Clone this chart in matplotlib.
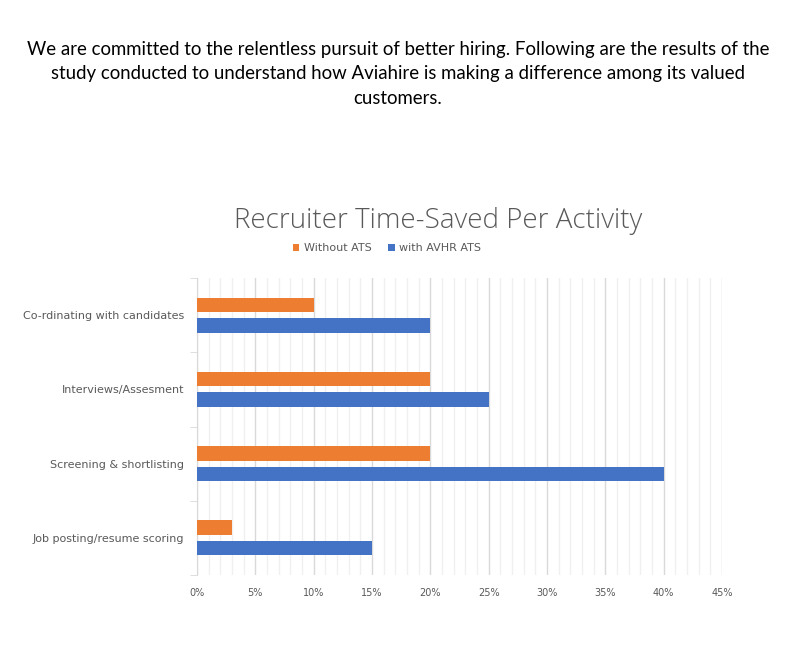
import numpy as np
import matplotlib.pyplot as plt
from matplotlib.ticker import MultipleLocator, FixedLocator, PercentFormatter

# data (bottom to top, as drawn)
activities = ['Job posting/resume scoring', 'Screening & shortlisting',
              'Interviews/Assesment', 'Co-rdinating with candidates']
without_ats = [3, 20, 20, 10]
with_avhr = [15, 40, 25, 20]
series_names = ['Without ATS', 'with AVHR ATS']

ORANGE = '#ED7D31'
BLUE = '#4472C4'
GREY = '#595959'

fig = plt.figure(figsize=(7.96, 6.54), dpi=100)
fig.patch.set_facecolor('white')

header = ('We are committed to the relentless pursuit of better hiring. Following are the results of the\n'
          'study conducted to understand how Aviahire is making a difference among its valued\n'
          'customers.')
fig.text(0.5, 1 - 74 / 654, header, ha='center', va='center', fontsize=13.4,
         family=['Lato', 'DejaVu Sans'], color='black', linespacing=1.5)

ax = fig.add_axes([197 / 796, 79 / 654, 525 / 796, 297 / 654])
y = np.arange(len(activities))
h = 0.196
off = 0.138
ax.barh(y + off, without_ats, height=h, color=ORANGE, label=series_names[0], zorder=3)
ax.barh(y - off, with_avhr, height=h, color=BLUE, label=series_names[1], zorder=3)

ax.set_xlim(0, 45)
ax.set_ylim(-0.5, len(activities) - 0.5)
ax.xaxis.set_major_locator(MultipleLocator(5))
ax.xaxis.set_minor_locator(MultipleLocator(1))
ax.xaxis.set_major_formatter(PercentFormatter(decimals=0))
ax.grid(axis='x', which='major', color='#D9D9D9', lw=1, zorder=0)
ax.grid(axis='x', which='minor', color='#F0F0F0', lw=1, zorder=0)
ax.tick_params(axis='x', which='both', length=0, labelsize=7, labelcolor=GREY, pad=9)

ax.set_yticks(y)
ax.set_yticklabels(activities)
ax.yaxis.set_minor_locator(FixedLocator(np.arange(-0.5, len(activities), 1)))
ax.tick_params(axis='y', which='major', length=0, labelsize=8, labelcolor=GREY, pad=9)
ax.tick_params(axis='y', which='minor', length=5, color='#D9D9D9')

for s in ['top', 'right', 'bottom']:
    ax.spines[s].set_visible(False)
ax.spines['left'].set_color('#D9D9D9')

fig.text(438 / 796, 1 - 221 / 654, 'Recruiter Time-Saved Per Activity', ha='center', va='center',
         fontsize=20, color=GREY, family='Open Sans', fontweight='light')
handles, labels = ax.get_legend_handles_labels()
fig.legend(handles, labels, loc='center', bbox_to_anchor=(387 / 796, 1 - 248 / 654), ncol=2,
           frameon=False, fontsize=8, labelcolor=GREY, handlelength=0.6, handleheight=0.6,
           handletextpad=0.4, columnspacing=1.5)

fig.savefig('out.png', dpi=100)
